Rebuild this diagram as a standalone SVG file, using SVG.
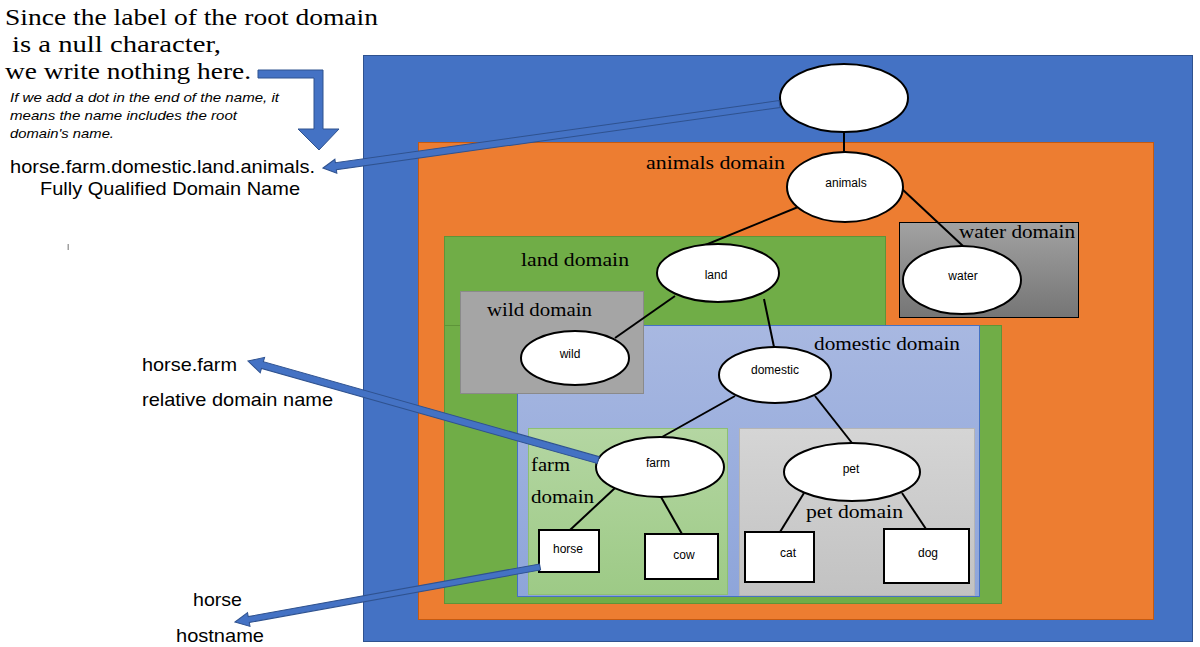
<svg xmlns="http://www.w3.org/2000/svg" width="1200" height="647" viewBox="0 0 1200 647">
<defs>
<linearGradient id="gDom" x1="0" y1="0" x2="0" y2="1"><stop offset="0" stop-color="#A8B8E1"/><stop offset="1" stop-color="#8EA5DA"/></linearGradient>
<linearGradient id="gFarm" x1="0" y1="0" x2="0" y2="1"><stop offset="0" stop-color="#B4D6A2"/><stop offset="1" stop-color="#9DCA86"/></linearGradient>
<linearGradient id="gPet" x1="0" y1="0" x2="0" y2="1"><stop offset="0" stop-color="#D5D5D5"/><stop offset="1" stop-color="#C2C2C2"/></linearGradient>
<linearGradient id="gWater" x1="0" y1="0" x2="0" y2="1"><stop offset="0" stop-color="#A2A2A2"/><stop offset="1" stop-color="#757575"/></linearGradient>
<style>
.serif{font-family:"Liberation Serif","Times New Roman",serif;fill:#000}
.sans{font-family:"Liberation Sans",Arial,sans-serif;fill:#000}
.lbl{font-family:"Liberation Sans",Arial,sans-serif;font-size:12px;fill:#000;text-anchor:middle}
.dom{font-family:"Liberation Serif","Times New Roman",serif;font-size:19px;fill:#000}
.node{fill:#fff;stroke:#000;stroke-width:2}
.edge{stroke:#000;stroke-width:2;fill:none}
.callout{fill:#4472C4;stroke:#2F528F;stroke-width:1}
</style>
</defs>
<rect width="1200" height="647" fill="#fff"/>

<g id="domains">
<rect id="root-domain" x="363.5" y="55.5" width="829" height="586" fill="#4472C4" stroke="#2F528F"/>
<rect id="animals-domain" x="418.5" y="142.5" width="735" height="477" fill="#ED7D31" stroke="#C55A11"/>
<rect id="land-domain-top" x="444.5" y="236.5" width="441" height="100" fill="#70AD47" stroke="#5E9439"/>
<rect id="land-domain" x="444.5" y="325.5" width="557" height="278" fill="#70AD47" stroke="#5E9439"/>
<rect id="water-domain" x="899.5" y="222.5" width="179" height="95" fill="url(#gWater)" stroke="#000"/>
<rect id="domestic-domain" x="517.5" y="325.5" width="462" height="271" fill="url(#gDom)" stroke="#4472C4"/>
<rect id="wild-domain" x="460.5" y="291.5" width="183" height="102" fill="#A5A5A5" stroke="#8A8A8A"/>
<rect id="farm-domain" x="528.5" y="428.5" width="199" height="166" fill="url(#gFarm)" stroke="#8DBF73"/>
<rect id="pet-domain" x="739.5" y="428.5" width="235" height="167" fill="url(#gPet)" stroke="#B5B5B5"/>
<text class="dom" x="646" y="169" textLength="139" lengthAdjust="spacingAndGlyphs">animals domain</text>
<text class="dom" x="959" y="238" textLength="116" lengthAdjust="spacingAndGlyphs">water domain</text>
<text class="dom" x="521" y="266" textLength="108" lengthAdjust="spacingAndGlyphs">land domain</text>
<text class="dom" x="487" y="316" textLength="105" lengthAdjust="spacingAndGlyphs">wild domain</text>
<text class="dom" x="814" y="350" textLength="146" lengthAdjust="spacingAndGlyphs">domestic domain</text>
<text class="dom" x="531" y="471" textLength="39" lengthAdjust="spacingAndGlyphs">farm</text>
<text class="dom" x="531" y="503" textLength="63" lengthAdjust="spacingAndGlyphs">domain</text>
<text class="dom" x="806" y="518" textLength="97" lengthAdjust="spacingAndGlyphs">pet domain</text>
</g>

<g id="connectors">
<line class="edge" x1="844" y1="132" x2="844" y2="152"/>
<line class="edge" x1="803" y1="205" x2="698" y2="248"/>
<line class="edge" x1="902" y1="189" x2="963" y2="246"/>
<line class="edge" x1="675" y1="296" x2="615" y2="338"/>
<line class="edge" x1="764" y1="299" x2="774" y2="347"/>
<line class="edge" x1="735" y1="396" x2="662" y2="437"/>
<line class="edge" x1="815" y1="396" x2="852" y2="443"/>
<line class="edge" x1="615" y1="488" x2="570" y2="530"/>
<line class="edge" x1="661" y1="497" x2="682" y2="534"/>
<line class="edge" x1="804" y1="493" x2="780" y2="532"/>
<line class="edge" x1="902" y1="493" x2="926" y2="529"/>
</g>

<g id="node-root"><ellipse class="node" cx="844" cy="98" rx="64" ry="34"/></g>
<g id="node-animals"><ellipse class="node" cx="845" cy="187" rx="58" ry="35"/><text class="lbl" x="846" y="187">animals</text></g>
<g id="node-water"><ellipse class="node" cx="962" cy="280" rx="59" ry="34"/><text class="lbl" x="963" y="280">water</text></g>
<g id="node-land"><ellipse class="node" cx="718" cy="273" rx="61" ry="29"/><text class="lbl" x="716" y="279">land</text></g>
<g id="node-wild"><ellipse class="node" cx="575" cy="358" rx="54" ry="27"/><text class="lbl" x="570" y="358">wild</text></g>
<g id="node-domestic"><ellipse class="node" cx="775" cy="375" rx="56" ry="28"/><text class="lbl" x="775" y="374">domestic</text></g>
<g id="node-farm"><ellipse class="node" cx="660" cy="467" rx="64" ry="30"/><text class="lbl" x="658" y="467">farm</text></g>
<g id="node-pet"><ellipse class="node" cx="852" cy="472" rx="68" ry="29"/><text class="lbl" x="851" y="473">pet</text></g>
<g id="node-horse"><rect class="node" x="539" y="530" width="60" height="42"/><text class="lbl" x="568" y="553">horse</text></g>
<g id="node-cow"><rect class="node" x="645" y="534" width="73" height="45"/><text class="lbl" x="684" y="559">cow</text></g>
<g id="node-cat"><rect class="node" x="745" y="532" width="69" height="50"/><text class="lbl" x="788" y="557">cat</text></g>
<g id="node-dog"><rect class="node" x="884" y="529" width="85" height="54"/><text class="lbl" x="928" y="557">dog</text></g>

<g id="notes">
<text class="serif" font-size="24" x="5" y="25" textLength="373" lengthAdjust="spacingAndGlyphs">Since the label of the root domain</text>
<text class="serif" font-size="24" x="12" y="52" textLength="209" lengthAdjust="spacingAndGlyphs">is a null character,</text>
<text class="serif" font-size="24" x="5" y="79" textLength="246" lengthAdjust="spacingAndGlyphs">we write nothing here.</text>
<text class="sans" font-size="13" font-style="italic" x="10" y="102" textLength="269" lengthAdjust="spacingAndGlyphs">If we add a dot in the end of the name, it</text>
<text class="sans" font-size="13" font-style="italic" x="10" y="120" textLength="227" lengthAdjust="spacingAndGlyphs">means the name includes the root</text>
<text class="sans" font-size="13" font-style="italic" x="10" y="138" textLength="104" lengthAdjust="spacingAndGlyphs">domain's name.</text>
<text class="sans" font-size="19" x="10" y="173" textLength="305" lengthAdjust="spacingAndGlyphs">horse.farm.domestic.land.animals.</text>
<text class="sans" font-size="19" x="40" y="195" textLength="260" lengthAdjust="spacingAndGlyphs">Fully Qualified Domain Name</text>
<text class="sans" font-size="19" x="142" y="371" textLength="95" lengthAdjust="spacingAndGlyphs">horse.farm</text>
<text class="sans" font-size="19" x="142" y="406" textLength="191" lengthAdjust="spacingAndGlyphs">relative domain name</text>
<text class="sans" font-size="19" x="193" y="606" textLength="49" lengthAdjust="spacingAndGlyphs">horse</text>
<text class="sans" font-size="19" x="176" y="642" textLength="88" lengthAdjust="spacingAndGlyphs">hostname</text>
<rect x="67.5" y="244" width="1.5" height="6" fill="#A0A0A0"/>
</g>

<g id="callouts">
<polygon class="callout" points="258,70 323,70 323,129 339,129 319,150 298,129 314,129 314,78 258,78"/>
<polygon class="callout" transform="translate(323,168) rotate(-7.97)" points="0,0 13,-7 13,-3.5 461,-3.5 461,3.5 13,3.5 13,7"/>
<polygon class="callout" transform="translate(248,361) rotate(15.79)" points="0,0 15,-8 15,-3.5 364,-3.5 364,3.5 15,3.5 15,8"/>
<polygon class="callout" transform="translate(235,622) rotate(-10.22)" points="0,0 14,-7 14,-3 310,-3 310,3 14,3 14,7"/>
</g>
</svg>
